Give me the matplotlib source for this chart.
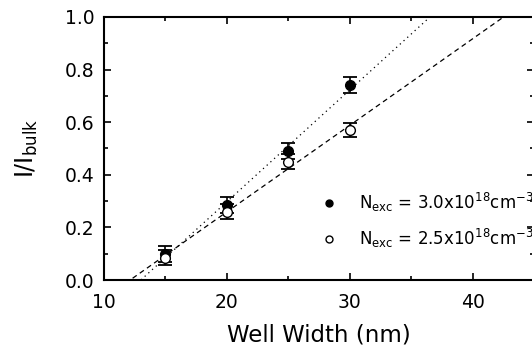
import numpy as np
import matplotlib
matplotlib.use("Agg")
import matplotlib.pyplot as plt
from matplotlib.ticker import MultipleLocator

well_width = [15, 20, 25, 30]
ratio_30 = [0.10, 0.285, 0.49, 0.74]
err_30 = [0.03, 0.03, 0.03, 0.03]
ratio_25 = [0.085, 0.26, 0.45, 0.57]
err_25 = [0.028, 0.028, 0.028, 0.028]
label_30 = r'$\mathregular{N_{exc}}$ = 3.0x10$^{18}$cm$^{-3}$'
label_25 = r'$\mathregular{N_{exc}}$ = 2.5x10$^{18}$cm$^{-3}$'

plt.rcParams['font.family'] = ['DejaVu Sans']
plt.rcParams['mathtext.fontset'] = 'dejavusans'

fig = plt.figure(figsize=(5.32, 3.56), dpi=100)
ax = fig.add_axes([104/532, 76/356, (534-104)/532, (339-76)/356])

xfit = np.linspace(10, 45, 200)
p30 = np.polyfit(well_width, ratio_30, 1)
p25 = np.polyfit(well_width, ratio_25, 1)
ax.plot(xfit, np.polyval(p30, xfit), color='black', lw=0.9, ls=(0, (1, 3)))
ax.plot(xfit, np.polyval(p25, xfit), color='black', lw=0.9, ls=(0, (4, 3)))

ax.errorbar(well_width, ratio_30, yerr=err_30, fmt='o', color='black', mfc='black',
            ms=7, capsize=5, capthick=1.3, elinewidth=1.2, zorder=3)
ax.errorbar(well_width, ratio_25, yerr=err_25, fmt='o', color='black', mfc='white',
            ms=7, capsize=5, capthick=1.3, elinewidth=1.2, zorder=3)

h1, = ax.plot([], [], 'o', color='black', mfc='black', ms=5, label=label_30)
h2, = ax.plot([], [], 'o', color='black', mfc='white', ms=5, label=label_25)
ax.legend(handles=[h1, h2], frameon=False, loc='center left',
          bbox_to_anchor=(0.47, 0.226), fontsize=12, handlelength=1.0,
          handletextpad=1.3, labelspacing=0.8)

ax.set_xlim(10, 45)
ax.set_ylim(0, 1.0)
ax.xaxis.set_major_locator(MultipleLocator(10))
ax.xaxis.set_minor_locator(MultipleLocator(5))
ax.yaxis.set_major_locator(MultipleLocator(0.2))
ax.yaxis.set_minor_locator(MultipleLocator(0.1))
ax.yaxis.set_major_formatter(matplotlib.ticker.FormatStrFormatter('%.1f'))
ax.tick_params(which='both', direction='in', top=True, right=True, labelsize=13.5, width=1.2)
ax.tick_params(which='major', length=5)
ax.tick_params(which='minor', length=3)
ax.tick_params(axis='x', which='major', pad=9)
ax.tick_params(axis='y', which='major', pad=7)
for s in ax.spines.values():
    s.set_linewidth(1.5)

ax.set_xlabel('Well Width (nm)', fontsize=16.5, labelpad=9)
ax.set_ylabel(r'I/I$_{\mathregular{bulk}}$', fontsize=17, labelpad=18)

fig.savefig('out.png', dpi=100)
